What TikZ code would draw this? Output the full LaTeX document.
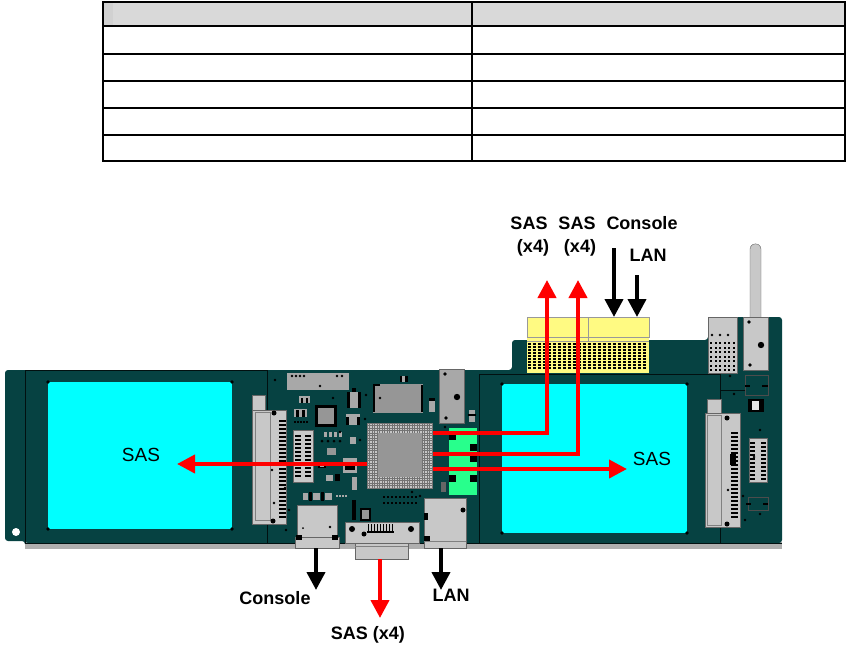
\documentclass[tikz,border=0pt]{standalone}
\usepackage{fontspec}
\setmainfont{Liberation Sans}
\usetikzlibrary{arrows.meta}
\definecolor{pcb}{RGB}{6,66,66}
\definecolor{cyanc}{RGB}{0,255,255}
\definecolor{compgray}{RGB}{168,168,168}
\definecolor{lightgray}{RGB}{200,200,200}
\definecolor{chipgray}{RGB}{150,150,150}
\definecolor{yellowc}{RGB}{255,250,130}
\definecolor{greenc}{RGB}{40,255,140}
\definecolor{hdr}{RGB}{217,217,217}
\definecolor{shadow}{RGB}{175,175,175}
\tikzset{
 lbl/.style={font=\fontsize{18}{20}\selectfont\bfseries, inner sep=0pt},
 saslbl/.style={font=\fontsize{19}{21}\selectfont, inner sep=0pt},
 redarrow/.style={draw=red, line width=4pt, -{Triangle[width=18pt,length=18pt]}},
 blkarrow/.style={draw=black, line width=4pt, -{Triangle[width=18pt,length=18pt]}},
 secline/.style={draw=black!75!pcb, line width=0.8pt},
 grayc/.style={fill=compgray, draw=black!70, line width=0.6pt},
 lgrayc/.style={fill=lightgray, draw=black!60, line width=0.6pt},
}
\begin{document}
\begin{tikzpicture}[x=1pt,y=-1pt]
\useasboundingbox (0,0) rectangle (847,648);
\fill[white] (0,0) rectangle (847,648);
% ---------------- table
\fill[hdr] (103,2) rectangle (845,26);
\fill[black!18] (104,3) rectangle (113,25);
\draw[line width=1.2pt] (103,2) rectangle (845,161);
\foreach \yy in {26,54,81,108,135} \draw[line width=1.2pt] (103,\yy) -- (845,\yy);
\draw[line width=1.2pt] (472,2) -- (472,161);
% ---------------- board
\fill[shadow] (25,542) rectangle (782,549);
\fill[pcb, rounded corners=3] (5,541) -- (5,370) -- (512,370) -- (512,340) -- (708,340) -- (708,317) -- (782,317) -- (782,543) -- (25,543) -- (25,541) -- cycle;
\draw[secline] (25,370) -- (25,543);
\draw[secline] (25,370) -- (267,370) -- (267,543);
\draw[secline] (25,543) -- (782,543);
\draw[secline] (479,543) -- (479,374) -- (720,374) -- (720,543);
\fill[white] (16,532) circle (4);
% cyan areas
\fill[cyanc] (48,382) rectangle (232,529);
\fill[cyanc] (502,384) rectangle (687,533);
\foreach \p in {(48,382),(232,382),(48,529),(232,529),(502,384),(687,384),(502,533),(687,533)} \fill \p circle (1.8);
% left slot
\fill[lightgray, draw=black!60] (252,395) rectangle (265,410);
\fill[lightgray, draw=black!60] (252,410) rectangle (286,524);
\draw[black!50] (255,412) rectangle (270,520);
\foreach \yy in {420,424,...,516} \fill[black] (279,\yy) rectangle (286,\yy+1.6);
\fill (274,413) circle (2.5);
\fill (273,521) circle (2.5);
% top gray module
\fill[compgray] (287,373) rectangle (349,390);
\foreach \xx in {292,296,300,304,337,342} \fill (\xx,376) circle (1.3);
% small parts
\fill[compgray] (299,396) rectangle (310,403); \fill (301,398) rectangle (303,403); \fill (306,398) rectangle (308,403);
\fill[compgray] (294,409) rectangle (307,417); \fill (296,410) rectangle (299,417); \fill (302,410) rectangle (305,417);
\foreach \xx in {294,297,...,306} \fill (\xx,421) rectangle (\xx+1.5,423);
% black square chip
\fill (315,405) rectangle (337,427);
\fill[chipgray] (318,408) rectangle (334,424);
% small comp pieces near
\fill[compgray] (347,392) rectangle (361,408); \fill (347,392) rectangle (350,408); \fill (358,392) rectangle (361,408); \fill (352,388) rectangle (356,392);
\fill[compgray] (346,414) rectangle (360,425); \fill (346,417) rectangle (349,425); \fill (357,417) rectangle (360,425);
% gray module with black border
\fill[chipgray] (373,384) rectangle (423,413);
\draw[black, line width=2pt] (374,412) -- (374,385) -- (380,385);
\draw[black, line width=1.5pt] (422,385) -- (422,412);
\fill (400,376) rectangle (408,382); \fill[compgray] (402,376) rectangle (405,382);
\fill[compgray] (429,398) rectangle (435,412); \fill (429,398) rectangle (435,401);
% small connector
\fill[lightgray, draw=black!60] (293,430) rectangle (313,482);
\foreach \yy in {435,439,...,477} {\fill (295,\yy) rectangle (301,\yy+1.8); \fill (305,\yy) rectangle (311,\yy+1.8);}
% misc small parts
\foreach \xx in {324,329,334,339} \fill[compgray] (\xx,432) rectangle (\xx+3,437);
\foreach \xx in {322,328,334,340} \fill (\xx,441) circle (1.5);
\fill[compgray] (350,437) rectangle (356,444);
\fill[chipgray] (327,448) rectangle (336,455);
\fill (318,462) rectangle (326,468); \fill[compgray] (320,463) rectangle (324,467);
\fill[compgray] (343,458) rectangle (357,473); \fill (345,466) rectangle (355,470);
\fill[compgray] (326,475) rectangle (333,481); \fill (335,474) rectangle (340,481);
\fill[compgray] (352,477) rectangle (357,490);
\fill[compgray] (303,493) rectangle (308,500); \fill (309,492) rectangle (312,501); \fill[compgray] (313,493) rectangle (320,500); \fill (321,492) rectangle (324,501); \fill[compgray] (325,493) rectangle (332,500);
\foreach \xx in {383,387,...,415} {\fill (\xx,496) rectangle (\xx+2,498); \fill (\xx,502) rectangle (\xx+2,504);}
\foreach \xx in {336,339,342,345} \fill[compgray] (\xx,495) rectangle (\xx+2,497);
\fill (352,500) rectangle (356,520);
\fill (360,508) rectangle (371,521); \fill[chipgray] (362,510) rectangle (369,519);
\foreach \p in {(275,380),(272,470),(285,488),(320,386),(333,398),(366,395),(380,398),(365,419),(440,433),(441,470),(455,500),(443,515),(289,510),(340,432),(360,440),(412,492),(420,496),(274,503),(445,427),(286,530)} \fill \p circle (1.3);
% central BGA chip
\fill[lightgray] (367,423) rectangle (433,488);
\foreach \xx in {367,369.5,...,433} \draw[black!55, line width=0.5pt] (\xx,423) -- (\xx,488);
\foreach \yy in {423,425.5,...,488} \draw[black!55, line width=0.5pt] (367,\yy) -- (433,\yy);
\fill[chipgray] (378,433) rectangle (422,477);
\node[inner sep=0pt, minimum width=66pt, minimum height=65pt] (chip) at (400,455.5) {};
% tall gray component
\fill[compgray, draw=black!60] (439,369) rectangle (464,423);
\fill (445,374) circle (1.8); \fill (446,418) circle (1.8); \fill (457,397) circle (3.2);
\fill[compgray] (469,410) rectangle (475,422); \fill (468,414) rectangle (476,416);
% green component
\fill[greenc] (449,428) rectangle (477,495);
\fill (449,433) rectangle (456,440);
\fill (470,444) rectangle (477,451);
\fill (470,456) rectangle (477,462);
\fill (449,475) rectangle (456,482);
\fill (470,475) rectangle (477,482);
\fill[black!60] (441,482) rectangle (446,492);
% ports at bottom
\fill[lgrayc] (297,505) rectangle (337,545);
\fill[lgrayc] (295,537) rectangle (339,548);
\fill (296,535) rectangle (302,540); \fill (332,535) rectangle (338,540);
\fill (303,528) circle (1); \fill (330,527) circle (1.3);
\fill[lgrayc] (355,541) rectangle (408,559);
\draw[black!50] (355,546) -- (408,546);
\fill[lgrayc] (345,522) rectangle (419,543);
\foreach \xx in {368,371,...,392} \fill (\xx,524) rectangle (\xx+1.4,532);
\draw[line width=1.5pt] (367,532) -- (394,532);
\fill (352,529) circle (3); \fill (364,534) circle (2.5); \fill (411,529) circle (3);
\fill[lgrayc] (424,498) rectangle (466,548);
\draw[black!50] (424,541) -- (466,541);
\fill (424,513) rectangle (428,520); \fill (463,510) circle (2.5); \fill (424,536) rectangle (430,541);
% ---------------- right section parts
% yellow connector
\fill[yellowc] (527,317) rectangle (649,373);
\draw[black!40, line width=0.6pt] (527,317) rectangle (649,337);
\draw[black!40, line width=0.6pt] (527,341) -- (649,341);
\draw[black!40, line width=0.6pt] (588,317) -- (588,341);
\foreach \xx in {528,533,...,645} \foreach \yy in {343,346,...,368} \fill (\xx,\yy) rectangle (\xx+2.6,\yy+2.2);
% right slot
\fill[lightgray, draw=black!60] (707,399) rectangle (721,413);
\fill[lightgray, draw=black!60] (705,413) rectangle (740,527);
\draw[black!50] (707,415) rectangle (721,525);
\foreach \yy in {432,436,...,516} \fill (731,\yy) rectangle (738,\yy+1.6);
\fill (727,418) circle (2.5); \fill (727,524) circle (2.5);
\fill (730,454) rectangle (736,465);
% right small connector
\fill[lightgray, draw=black!60] (749,438) rectangle (767,482);
\foreach \yy in {442,446,...,478} {\fill (750,\yy) rectangle (755,\yy+1.8); \fill (761,\yy) rectangle (766,\yy+1.8);}
\draw[black!70] (745,375) rectangle (768,395);
\fill (745,385) rectangle (750,387); \fill (762,385) rectangle (768,387);
\fill (748,399) rectangle (764,412); \fill[white!80!gray] (752,401) rectangle (759,410);
\draw[black!70] (748,497) rectangle (768,510);
\fill (746,503) rectangle (751,505); \fill (763,503) rectangle (768,505);
\draw[secline] (720,390) -- (745,390);
\foreach \p in {(730,376),(734,394),(754,457),(760,430),(728,490),(743,496),(760,514),(745,520)} \fill \p circle (1.3);
% gray box left with grid
\fill[lgrayc] (708,317) rectangle (737,373);
\foreach \xx in {712,720,728} \fill (\xx,335) circle (1.3);
\foreach \xx in {710,714.5,...,735} \foreach \yy in {342,346.5,...,370} \fill (\xx,\yy) rectangle (\xx+2.4,\yy+2.4);
% stick and gray box right
\fill[lightgray, draw=black!60, rounded corners=3] (750,317) -- (750,246) -- (755.5,243) -- (761,246) -- (761,317);
\fill[lgrayc] (743,317) rectangle (768,370);
\fill (749,322) circle (1.8); \fill (750,365) circle (1.8); \fill (761,345) circle (3.2);
% ---------------- labels
\node[lbl] (tsas1) at (529,223) {SAS};
\node[lbl] (tx1) at (533,248) {(x4)};
\node[lbl] (tsas2) at (577,223) {SAS};
\node[lbl] (tx2) at (580,248) {(x4)};
\node[lbl] (tcon) at (642,223) {Console};
\node[lbl] (tlan) at (648,255) {LAN};
\node[lbl] (bcon) at (275,598) {Console};
\node[lbl] (blan) at (451,595) {LAN};
\node[lbl] (bsas) at (368,635) {SAS (x4)};
\node[saslbl] (lsas) at (141,455) {SAS};
\node[saslbl] (rsas) at (652,459) {SAS};
% ---------------- connectors
\coordinate (c1) at (433,433);
\coordinate (c2) at (433,454);
\coordinate (c3) at (433,469);
\coordinate (c0) at (367,464);
\coordinate (u1) at (547,280);
\coordinate (u2) at (578,280);
\coordinate (r3) at (627,469);
\coordinate (l0) at (177,464);
\coordinate (bs) at (380,559);
\coordinate (be) at (380,618);
\coordinate (k1s) at (614,248);
\coordinate (k1e) at (614,317);
\coordinate (k2s) at (637,275);
\coordinate (k2e) at (637,317);
\coordinate (cs) at (316,548);
\coordinate (ce) at (316,590);
\coordinate (ls) at (441,548);
\coordinate (le) at (441,590);
\draw[redarrow] (c1) -| (u1);
\draw[redarrow] (c2) -| (u2);
\draw[redarrow] (c3) -- (r3);
\draw[redarrow] (c0) -- (l0);
\draw[redarrow] (bs) -- (be);
\draw[blkarrow] (k1s) -- (k1e);
\draw[blkarrow] (k2s) -- (k2e);
\draw[blkarrow] (cs) -- (ce);
\draw[blkarrow] (ls) -- (le);
\end{tikzpicture}
\end{document}
